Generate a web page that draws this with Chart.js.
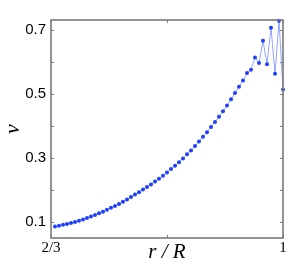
<!DOCTYPE html>
<html>
<head>
<meta charset="utf-8">
<script src="https://cdn.jsdelivr.net/npm/chart.js@4/dist/chart.umd.min.js"></script>
<style>
html,body{margin:0;padding:0;background:#fff;}
#wrap{width:300px;height:268px;}
</style>
</head>
<body>
<div id="wrap"><canvas id="c" width="300" height="268"></canvas></div>
<script>
// r/R positions: 58 samples from 2/3 (exclusive) to 1 (inclusive)
const rStart = 2/3, rStep = 1/174;
const rValues = [];
for (let i = 1; i <= 58; i++) rValues.push(rStart + i * rStep);

const vValues = [
  0.086, 0.088, 0.091, 0.094, 0.097, 0.100, 0.104, 0.108, 0.112, 0.117,
  0.122, 0.127, 0.132, 0.138, 0.144, 0.150, 0.156, 0.163, 0.170, 0.178,
  0.186, 0.193, 0.201, 0.209, 0.217, 0.226, 0.235, 0.244, 0.254, 0.265,
  0.275, 0.286, 0.298, 0.311, 0.323, 0.337, 0.351, 0.366, 0.380, 0.396,
  0.412, 0.428, 0.445, 0.463, 0.483, 0.502, 0.522, 0.541, 0.565, 0.575,
  0.613, 0.596, 0.665, 0.592, 0.706, 0.562, 0.728, 0.513
];

const xTickValues = [2/3, 5/6, 1];
const xTickLabels = ['2/3', '', '1'];
const yTickValues = [0.1, 0.2, 0.3, 0.4, 0.5, 0.6, 0.7];
const yTickLabels = ['0.1', '', '0.3', '', '0.5', '', '0.7'];

const points = rValues.map((r, i) => ({x: r, y: vValues[i]}));

const boxPlugin = {
  id: 'box',
  afterDraw(chart) {
    const {ctx, chartArea: a, scales} = chart;
    ctx.save();
    ctx.strokeStyle = '#808080';
    ctx.lineWidth = 1;
    const tl = 3;
    ctx.beginPath();
    yTickValues.forEach(v => {
      const y = Math.round(scales.y.getPixelForValue(v)) + 0.5;
      ctx.moveTo(a.left, y); ctx.lineTo(a.left + tl, y);
      ctx.moveTo(a.right, y); ctx.lineTo(a.right - tl, y);
    });
    xTickValues.forEach(v => {
      const x = Math.round(scales.x.getPixelForValue(v)) + 0.5;
      ctx.moveTo(x, a.bottom); ctx.lineTo(x, a.bottom - tl);
      ctx.moveTo(x, a.top); ctx.lineTo(x, a.top + tl);
    });
    ctx.stroke();
    ctx.lineWidth = 1.6;
    ctx.strokeStyle = '#7a7a7a';
    ctx.strokeRect(a.left, a.top, a.right - a.left, a.bottom - a.top);
    ctx.restore();
  }
};

new Chart(document.getElementById('c'), {
  type: 'scatter',
  data: {
    datasets: [{
      data: points,
      showLine: true,
      borderColor: 'rgba(110,135,255,0.75)',
      borderWidth: 1,
      pointRadius: 2,
      pointBackgroundColor: '#1f3fff',
      pointBorderWidth: 0,
      clip: false
    }]
  },
  options: {
    responsive: false,
    animation: false,
    devicePixelRatio: 1,
    layout: {padding: {left: 0, top: 20, right: 17, bottom: 0}},
    plugins: {legend: {display: false}, tooltip: {enabled: false}},
    scales: {
      x: {
        type: 'linear',
        min: 2/3,
        max: 1,
        afterBuildTicks(s) { s.ticks = xTickValues.map(v => ({value: v})); },
        afterFit(s) { s.height = 30; },
        grid: {display: false, drawTicks: false},
        border: {display: false},
        ticks: {
          autoSkip: false,
          maxRotation: 0,
          padding: 1,
          color: '#000',
          font: {family: '"Liberation Serif", serif', size: 15},
          callback: (v, i) => xTickLabels[i]
        },
        title: {
          display: true,
          text: 'r / R',
          color: '#000',
          padding: {top: 0, bottom: 3},
          font: {family: '"Liberation Serif", serif', size: 21, style: 'italic'}
        }
      },
      y: {
        min: 0.05,
        max: 0.73,
        afterBuildTicks(s) { s.ticks = yTickValues.map(v => ({value: v})); },
        afterFit(s) { s.width = 51; },
        grid: {display: false, drawTicks: false},
        border: {display: false},
        ticks: {
          autoSkip: false,
          padding: 5,
          color: '#000',
          font: {family: '"Liberation Sans", Arial, sans-serif', size: 15},
          callback: (v, i) => yTickLabels[i]
        },
        title: {
          display: true,
          text: 'v',
          color: '#000',
          padding: {top: 0, bottom: 0},
          font: {family: '"Liberation Serif", serif', size: 22, style: 'italic'}
        }
      }
    }
  },
  plugins: [boxPlugin]
});
</script>
</body>
</html>
